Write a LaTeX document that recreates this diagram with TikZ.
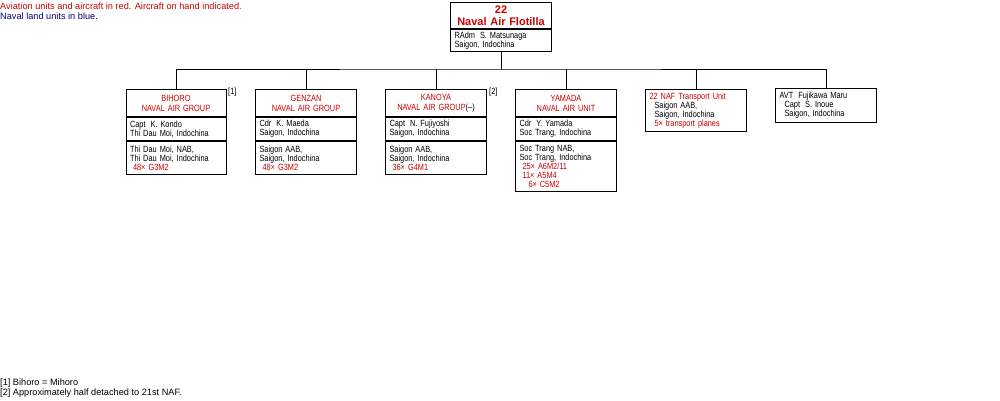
\documentclass[tikz,border=0pt]{standalone}
\usepackage{fontspec}
\setmainfont[FakeStretch=0.82]{Liberation Sans}
\newfontfamily\titlefont{Liberation Sans}
\definecolor{avred}{RGB}{204,0,0}
\definecolor{landblue}{RGB}{0,0,128}
\newcommand{\dsp}{\hspace*{2pt} }
\begin{document}
\begin{tikzpicture}[x=1pt,y=-1pt,
  every node/.style={font=\fontsize{9}{9}\selectfont, inner sep=0pt},
  sect/.style={draw, line width=1pt, minimum width=#1, text width=#1-8pt, align=left, anchor=north west},
  sect/.default=101pt,
  ttl/.style={draw, line width=1pt, minimum width=#1, text width=#1-8pt, align=center, anchor=north west, text=avred, font=\fontsize{9}{10}\selectfont},
  ttl/.default=101pt,
  note/.style={anchor=west, font=\titlefont\fontsize{9.2}{10}\selectfont},
  link/.style={line width=1pt}]
\useasboundingbox (0,0) rectangle (1000,400);

% legend
\node[note, text=avred] (leg1) at (0,6) {Aviation units and aircraft in red. Aircraft on hand indicated.};
\node[note, text=landblue] (leg2) at (0,16) {Naval land units in blue.};

% top
\node[ttl, minimum height=26pt, font=\titlefont\bfseries\fontsize{11}{12}\selectfont] (topt) at (450,2) {22\\Naval Air Flotilla};
\node[sect, minimum height=22pt] (topi) at (topt.south west) {RAdm\dsp S. Matsunaga\\Saigon, Indochina};

% Bihoro
\node[ttl=100pt, minimum height=27pt] (b1t) at (125.5,89) {BIHORO\\NAVAL AIR GROUP};
\node[sect=100pt, minimum height=23pt] (b1i) at (b1t.south west) {Capt\dsp K. Kondo\\Thi Dau Moi, Indochina};
\node[sect=100pt, minimum height=33pt] (b1b) at (b1i.south west) {Thi Dau Moi, NAB,\\Thi Dau Moi, Indochina\\\textcolor{avred}{\ 48× G3M2}};
\node[anchor=north west] (fn1) at (228,88) {[1]};

% Genzan
\node[ttl, minimum height=27pt] (b2t) at (255,89) {GENZAN\\NAVAL AIR GROUP};
\node[sect, minimum height=23pt] (b2i) at (b2t.south west) {Cdr\dsp K. Maeda\\Saigon, Indochina};
\node[sect, minimum height=33pt] (b2b) at (b2i.south west) {Saigon AAB,\\Saigon, Indochina\\\textcolor{avred}{\ 48× G3M2}};

% Kanoya
\node[ttl, minimum height=27pt] (b3t) at (385,89) {KANOYA\\NAVAL AIR GROUP\textcolor{black}{(–)}};
\node[sect, minimum height=23pt] (b3i) at (b3t.south west) {Capt\dsp N. Fujiyoshi\\Saigon, Indochina};
\node[sect, minimum height=33pt] (b3b) at (b3i.south west) {Saigon AAB,\\Saigon, Indochina\\\textcolor{avred}{\ 36× G4M1}};
\node[anchor=north west] (fn2) at (489,88) {[2]};

% Yamada
\node[ttl, minimum height=27pt] (b4t) at (515,89) {YAMADA\\NAVAL AIR UNIT};
\node[sect, minimum height=23pt] (b4i) at (b4t.south west) {Cdr\dsp Y. Yamada\\Soc Trang, Indochina};
\node[sect, minimum height=50pt] (b4b) at (b4i.south west) {Soc Trang NAB,\\Soc Trang, Indochina\\\textcolor{avred}{\ 25× A6M2/11}\\\textcolor{avred}{\ 11× A5M4}\\\textcolor{avred}{\ \ \ 6× C5M2}};

% Transport
\node[sect, minimum height=42pt] (b5) at (645,89) {\textcolor{avred}{22 NAF Transport Unit}\\\hspace*{5pt}Saigon AAB,\\\hspace*{5pt}Saigon, Indochina\\\hspace*{5pt}\textcolor{avred}{5× transport planes}};

% AVT
\node[sect, minimum height=34pt] (b6) at (775,88) {AVT\dsp Fujikawa Maru\\\hspace*{5pt}Capt\dsp S. Inoue\\\hspace*{5pt}Saigon, Indochina};

% connectors
\coordinate (bus) at (500,69);
\draw[link] (topi.south) -- (topi.south |- bus);
\draw[link] (b1t.north) |- (bus) -| (b6.north);
\draw[link] (b2t.north) -- (b2t.north |- bus);
\draw[link] (b3t.north) -- (b3t.north |- bus);
\draw[link] (b4t.north) -- (b4t.north |- bus);
\draw[link] (b5.north) -- (b5.north |- bus);

% footnotes
\node[note] (n1) at (0,383) {[1] Bihoro = Mihoro};
\node[note] (n2) at (0,393) {[2] Approximately half detached to 21st NAF.};
\end{tikzpicture}
\end{document}
